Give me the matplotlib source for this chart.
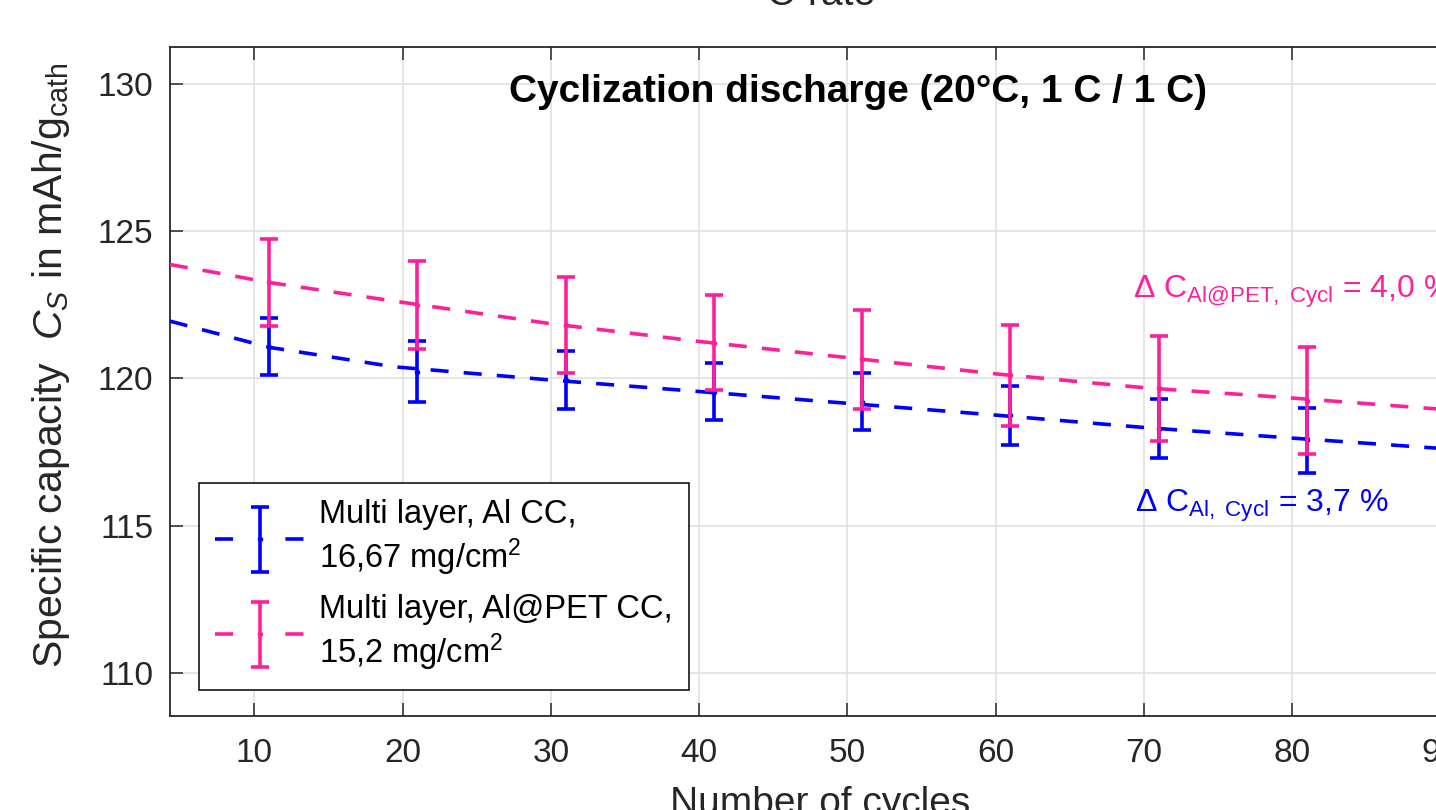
"""Cyclization discharge: specific capacity vs. number of cycles, Al CC vs Al@PET CC."""

import matplotlib

matplotlib.use("Agg")
import matplotlib.pyplot as plt
from matplotlib.container import ErrorbarContainer
from matplotlib.legend_handler import HandlerErrorbar, HandlerTuple
from matplotlib.lines import Line2D

plt.rcParams["font.family"] = ["Liberation Sans", "DejaVu Sans"]
plt.rcParams["mathtext.fontset"] = "custom"
plt.rcParams["mathtext.rm"] = "Liberation Sans"
plt.rcParams["mathtext.it"] = "Liberation Sans:italic"
plt.rcParams["mathtext.bf"] = "Liberation Sans:bold"

BLUE = "#0000ff"
PINK = "#ff1f9b"
AX_COLOR = "#262626"

# measured points (mean +- std)
cycles = [11, 21, 31, 41, 51, 61, 71, 81]
cap_al = [121.07, 120.22, 119.94, 119.55, 119.21, 118.74, 118.28, 117.90]
err_al = [0.96, 1.03, 1.00, 0.98, 0.97, 1.00, 1.00, 1.10]
cap_pet = [123.26, 122.49, 121.81, 121.21, 120.64, 120.10, 119.66, 119.24]
err_pet = [1.47, 1.50, 1.63, 1.62, 1.68, 1.72, 1.78, 1.82]

# fitted trend lines
fit_x = [4.3, 7, 11, 19.4, 30, 40, 50, 60, 70, 80, 90, 92]
fit_al = [121.94, 121.58, 121.05, 120.39, 119.94, 119.55, 119.15, 118.75,
          118.33, 117.97, 117.62, 117.55]
fit_pet = [123.86, 123.62, 123.25, 122.62, 121.85, 121.25, 120.70, 120.15,
           119.68, 119.33, 118.95, 118.88]

x_ticks = [10, 20, 30, 40, 50, 60, 70, 80, 90]
y_ticks = [110, 115, 120, 125, 130]

label_al = "Multi layer, Al CC,\n16,67 mg/cm$^2$"
label_pet = "Multi layer, Al@PET CC,\n15,2 mg/cm$^2$"
delta_al = r"Δ C$_{\mathrm{Al,\ Cycl}}$ = 3,7 %"
delta_pet = r"Δ C$_{\mathrm{Al@PET,\ Cycl}}$ = 4,0 %"

W, H = 1436, 810
fig = plt.figure(figsize=(W / 100, H / 100), dpi=100)
# axes run past the right edge of the (cropped) figure
ax = fig.add_axes([170 / W, 1 - 716 / H, 1300 / W, 669 / H])

LW = 2.6
DASH = (5, 4.2)

ax.plot(fit_x, fit_al, color=BLUE, lw=LW, dashes=DASH, zorder=3)
eb_al = ax.errorbar(cycles, cap_al, yerr=err_al, fmt=".", color=BLUE,
                    ms=6, elinewidth=LW, capsize=6.5, capthick=LW, zorder=4)
ax.plot(fit_x, fit_pet, color=PINK, lw=LW, dashes=DASH, zorder=3)
eb_pet = ax.errorbar(cycles, cap_pet, yerr=err_pet, fmt=".", color=PINK,
                     ms=6, elinewidth=LW, capsize=6.5, capthick=LW, zorder=5)

ax.set_xlim(4.31, 92.0)
ax.set_ylim(108.54, 131.24)
ax.set_xticks(x_ticks)
ax.set_yticks(y_ticks)
ax.grid(True, color="#dedede", lw=1.1)
ax.set_axisbelow(True)
for sp in ax.spines.values():
    sp.set_color(AX_COLOR)
    sp.set_linewidth(1.3)
ax.tick_params(direction="in", length=9.5, width=1.1, colors=AX_COLOR,
               labelsize=24, top=True, right=True)
ax.tick_params(axis="y", pad=12)
ax.tick_params(axis="x", pad=16)

ax.set_xlabel("Number of cycles", fontsize=28, color=AX_COLOR)
ax.xaxis.set_label_coords(0.5, -0.104)
ax.set_ylabel(r"Specific capacity  $C_S$ in mAh/g$_{\mathrm{cath}}$",
              fontsize=29.5, color=AX_COLOR)
ax.yaxis.set_label_coords(-0.075, 0.524)

ax.text(0.529, 0.933, "Cyclization discharge (20°C, 1 C / 1 C)",
        transform=ax.transAxes, ha="center", va="center",
        fontsize=28, fontweight="bold", color="black")

ax.text(69.3, 122.73, delta_pet, color=PINK, fontsize=23, va="baseline")
ax.text(69.4, 115.45, delta_al, color=BLUE, fontsize=23, va="baseline")

# partly cropped label from the panel above
fig.text(821 / W, 1 - 5 / H, "C-rate", ha="center", va="baseline",
         fontsize=28, color=AX_COLOR)

# legend: dashed trend line + errorbar glyph in one handle
proxy_al = Line2D([], [], color=BLUE, lw=LW, dashes=(5, 14.5))
proxy_pet = Line2D([], [], color=PINK, lw=LW, dashes=(5, 14.5))
leg = ax.legend(
    [(proxy_al, eb_al), (proxy_pet, eb_pet)], [label_al, label_pet],
    handler_map={tuple: HandlerTuple(ndivide=1),
                 ErrorbarContainer: HandlerErrorbar(yerr_size=1.0)},
    loc="upper left", bbox_to_anchor=(199 / W, 1 - 483 / H),
    bbox_transform=fig.transFigure, borderaxespad=0, fontsize=23.5,
    handlelength=2.76, handletextpad=0.42, borderpad=0.5, labelspacing=0.5,
    fancybox=False, framealpha=1, edgecolor="black",
)
leg.get_frame().set_linewidth(1.1)

fig.savefig("out.png", dpi=100)
